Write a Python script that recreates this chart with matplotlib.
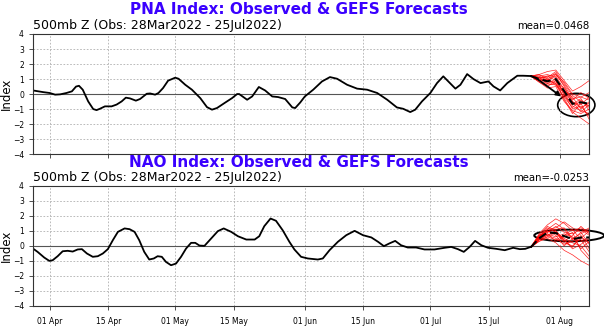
import numpy as np
import pandas as pd
import matplotlib
matplotlib.use("Agg")
import matplotlib.pyplot as plt
import matplotlib.dates as mdates
from matplotlib.patches import Ellipse

start = pd.Timestamp("2022-03-28")
end = pd.Timestamp("2022-08-08")

# observed PNA (days after 28 Mar, index value)
pna_days = [0, 2.4, 4, 5.3, 6.5, 8, 9.3, 10.3, 11, 11.9, 13.2, 14.4, 15.2, 16, 17.2, 18.8, 20, 21.2,
            22.2, 23.2, 24.6, 25.6, 27.2, 28, 29.2, 30, 31.1, 32.3, 34, 34.8, 36.4, 38, 40, 41.6,
            42.8, 44, 46, 47.6, 48.8, 49.3, 51.2, 52.4, 54, 55.5, 57.2, 58.6, 60.3, 62, 62.7, 63.9,
            65, 67, 69.1, 71, 72.7, 75.1, 77.5, 79.9, 82.3, 84.7, 87, 88.5, 90.2, 91.4, 93, 95,
            96.6, 98.1, 99.3, 101, 102.2, 103.8, 105.3, 107, 108.9, 110.1, 111.7, 113.4, 115.8,
            117.2, 119]
pna_obs = [0.24, 0.13, 0.07, -0.04, -0.02, 0.07, 0.18, 0.5, 0.55, 0.29, -0.49, -1.0, -1.07, -0.98,
           -0.82, -0.82, -0.7, -0.49, -0.24, -0.29, -0.44, -0.33, 0.02, 0.04, -0.04, 0.07, 0.4,
           0.89, 1.09, 1.02, 0.62, 0.29, -0.27, -0.87, -1.04, -0.93, -0.56, -0.27, 0.0, 0.0,
           -0.38, -0.16, 0.47, 0.24, -0.16, -0.2, -0.33, -0.89, -0.93, -0.56,
           -0.16, 0.29, 0.84, 1.13, 1.02, 0.62, 0.36, 0.29, 0.07, -0.38, -0.89, -0.98, -1.2,
           -1.04, -0.49, 0.07, 0.73, 1.18, 0.84, 0.36, 0.62, 1.33, 1.0, 0.73, 0.84, 0.51, 0.24,
           0.73, 1.22, 1.22, 1.2]

# observed NAO
nao_days = [0, 1.1, 2.7, 3.9, 4.7, 5.9, 7.1, 8.3, 9.5, 10.7, 11.7, 12.9, 14.3, 15.5, 16.7, 17.9,
            19.1, 20.3, 21.9, 23.1, 24.3, 25.4, 26.6, 27.8, 28.9, 29.8, 30.8, 31.8, 33, 34.2,
            35.4, 36.6, 37.8, 38.8, 39.8, 41, 42.6, 44.2, 45.6, 47.4, 49, 51, 53, 54.1, 55.3,
            56.8, 58.1, 59.7, 61.3, 62.5, 64.1, 65.7, 68.1, 69.3, 70.9, 72.9, 74.9, 76.9, 78.9,
            80.9, 82.5, 83.9, 85.2, 86.6, 88, 89.6, 91.6, 93.6, 96, 98.4, 100, 101.6, 103, 104.4,
            105.7, 107.2, 108.8, 110.8, 112.8, 114.8, 116.4, 117.7, 119]
nao_obs = [-0.18, -0.4, -0.78, -1.0, -0.96, -0.69, -0.36, -0.33, -0.38, -0.24, -0.22, -0.51,
           -0.73, -0.69, -0.51, -0.22, 0.38, 0.93, 1.16, 1.11, 0.93, 0.38, -0.4, -0.91, -0.84,
           -0.69, -0.73, -1.07, -1.29, -1.18, -0.73, -0.18, 0.2, 0.2, 0.02, 0.0, 0.49, 0.98,
           1.16, 0.93, 0.64, 0.42, 0.42, 0.64, 1.31, 1.82, 1.67, 1.04, 0.27, -0.24, -0.73,
           -0.84, -0.91, -0.84, -0.29, 0.27, 0.71, 1.0, 0.71, 0.56, 0.27, -0.02, 0.16, 0.33,
           0.04, -0.11, -0.11, -0.24, -0.24, -0.13, -0.07, -0.22, -0.4, -0.07, 0.33, 0.04,
           -0.13, -0.2, -0.29, -0.13, -0.22, -0.2, -0.07]

# GEFS forecast days and members
fc_days = [119, 121, 123, 125, 127, 129, 131, 133]
pna_mean = [1.2, 1.0, 0.85, 1.0, 0.2, -0.65, -0.55, -0.65]
pna_members = [
    [1.2, 1.3, 1.5, 1.6, 0.9, 0.2, 0.5, 0.9],
    [1.2, 0.9, 0.6, 0.7, -0.3, -1.2, -1.6, -2.0],
    [1.2, 1.1, 1.2, 1.3, 0.6, -0.3, -0.2, 0.1],
    [1.2, 0.8, 0.5, 0.9, 0.1, -0.8, -1.1, -1.3],
    [1.2, 1.0, 1.0, 1.4, 0.5, -0.5, -0.9, -0.6],
    [1.2, 1.1, 0.7, 0.6, -0.2, -0.9, -0.4, -0.9],
    [1.2, 0.9, 0.9, 1.2, 0.3, -0.6, -0.7, -0.2],
    [1.2, 1.2, 1.3, 1.1, 0.0, -1.0, -0.8, -1.5],
    [1.2, 1.0, 0.8, 0.8, 0.4, -0.4, 0.1, -0.3],
    [1.2, 0.8, 0.4, 0.5, -0.5, -1.1, -1.3, -1.0],
    [1.2, 1.1, 1.1, 1.5, 0.7, -0.1, -0.5, -0.8],
    [1.2, 0.9, 0.7, 1.0, -0.1, -0.7, -0.3, -1.1],
    [1.2, 1.3, 1.0, 0.7, 0.2, -0.2, -1.0, -0.5],
    [1.2, 1.0, 1.2, 0.9, -0.4, -1.3, -0.6, -1.7],
    [1.2, 1.2, 0.9, 1.3, 0.8, 0.0, -0.2, -0.4],
    [1.2, 0.9, 1.0, 0.6, 0.1, -0.5, -1.2, -0.7],
]
nao_mean = [-0.1, 0.5, 0.89, 0.85, 0.65, 0.45, 0.55, 0.56]
nao_members = [
    [-0.1, 0.8, 1.4, 1.8, 1.5, 1.0, 1.2, 0.9],
    [-0.1, 0.3, 0.5, 0.2, -0.3, -0.6, -1.0, -1.3],
    [-0.1, 0.6, 1.1, 1.2, 1.6, 1.2, 0.9, 1.2],
    [-0.1, 0.4, 0.7, 0.5, 0.1, 0.3, 0.6, 0.2],
    [-0.1, 0.7, 1.0, 0.8, 0.4, -0.2, 0.1, 0.5],
    [-0.1, 0.5, 0.9, 1.3, 0.9, 0.8, 1.1, 0.7],
    [-0.1, 0.3, 0.6, 0.4, 0.7, 1.1, 0.4, -0.4],
    [-0.1, 0.6, 1.2, 0.9, 0.2, 0.0, 0.5, 1.0],
    [-0.1, 0.5, 0.8, 0.6, 0.8, 0.6, -0.2, 0.3],
    [-0.1, 0.7, 1.3, 1.0, 0.3, 0.7, 1.3, 0.8],
    [-0.1, 0.4, 0.6, 0.9, 0.5, 0.2, 0.0, -0.7],
    [-0.1, 0.6, 1.0, 0.7, 0.0, 0.5, 0.8, 1.1],
    [-0.1, 0.5, 1.1, 1.5, 1.1, 0.4, 0.9, 0.1],
    [-0.1, 0.4, 0.8, 0.3, 0.6, 0.9, -0.3, -0.9],
    [-0.1, 0.7, 0.9, 1.1, 1.2, 0.5, 0.3, 0.6],
    [-0.1, 0.5, 0.7, 1.0, 0.4, -0.1, 0.7, -0.2],
]

titles = ["PNA Index: Observed & GEFS Forecasts", "NAO Index: Observed & GEFS Forecasts"]
subtitle = "500mb Z (Obs: 28Mar2022 - 25Jul2022)"
means = ["mean=0.0468", "mean=-0.0253"]


def to_dates(days):
    return start + pd.to_timedelta(np.array(days, dtype=float), unit="D")


fig = plt.figure(figsize=(6.04, 3.30), dpi=100)
ax1 = fig.add_axes([0.0546, 0.533, 0.921, 0.364])
ax2 = fig.add_axes([0.0546, 0.073, 0.921, 0.364])

panels = [(ax1, pna_days, pna_obs, pna_members, pna_mean),
          (ax2, nao_days, nao_obs, nao_members, nao_mean)]

for ax, days, obs, members, fmean in panels:
    ax.grid(True, color="#b0b0b0", linestyle=(0, (2, 2)), linewidth=0.6)
    ax.axhline(0, color="#555555", linewidth=0.8)
    for m in members:
        ax.plot(to_dates(fc_days), m, color="red", linewidth=0.5, alpha=0.85)
    ax.plot(to_dates(days), obs, color="black", linewidth=1.3)
    ax.plot(to_dates(fc_days), fmean, color="black", linewidth=1.5, dashes=(4, 2))
    ax.set_xlim(start, end)
    ax.set_ylim(-4, 4)
    ax.set_yticks(range(-4, 5))
    ax.set_ylabel("Index", fontsize=8.5)
    ax.yaxis.set_label_coords(-0.037, 0.5)
    ax.xaxis.set_major_locator(mdates.DayLocator(bymonthday=[1, 15]))
    ax.xaxis.set_major_formatter(mdates.DateFormatter("%d %b"))
    ax.tick_params(labelsize=5.5, length=3, width=0.6, color="#333333")
    ax.tick_params(axis="x", pad=5)
    for s in ax.spines.values():
        s.set_color("#333333")
        s.set_linewidth(0.8)

ax1.tick_params(axis="x", labelbottom=False)

# highlight marks on the forecasts
ax1.annotate("", xy=(start + pd.Timedelta(days=126.8), -0.27),
             xytext=(start + pd.Timedelta(days=119.6), 1.2),
             arrowprops=dict(arrowstyle="-|>", color="black", lw=1.3, mutation_scale=7))
ax1.add_patch(Ellipse((mdates.date2num(start + pd.Timedelta(days=129.9)), -0.73),
                      8.9, 1.55, fill=False, edgecolor="black", linewidth=1.2, clip_on=False))
ax2.add_patch(Ellipse((mdates.date2num(start + pd.Timedelta(days=128.2)), 0.69),
                      16.7, 0.78, fill=False, edgecolor="black", linewidth=1.4, clip_on=False))

blue = "#3a00ff"
fig.text(0.495, 0.972, titles[0], color=blue, fontsize=11, fontweight="bold", ha="center", va="center")
fig.text(0.495, 0.509, titles[1], color=blue, fontsize=11, fontweight="bold", ha="center", va="center")
fig.text(0.0546, 0.922, subtitle, fontsize=9, ha="left", va="center")
fig.text(0.0546, 0.462, subtitle, fontsize=9, ha="left", va="center")
fig.text(0.975, 0.922, means[0], fontsize=7.3, ha="right", va="center")
fig.text(0.975, 0.462, means[1], fontsize=7.3, ha="right", va="center")

fig.savefig("out.png", dpi=100)
